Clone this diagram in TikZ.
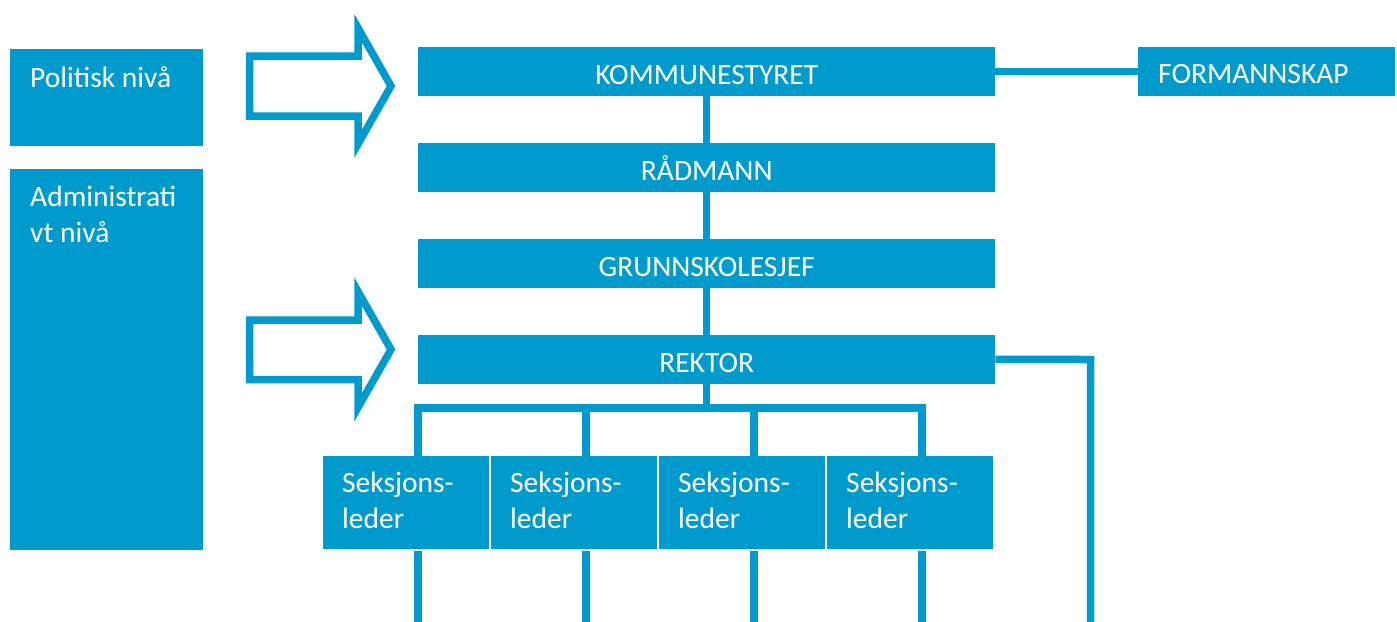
\documentclass[tikz,border=0pt]{standalone}
\usepackage{fontspec}
\setmainfont{Carlito}
\usetikzlibrary{calc,backgrounds}
\definecolor{blu}{RGB}{0,155,204}
\begin{document}
\begin{tikzpicture}[x=1pt,y=-1pt,
  box/.style={fill=blu, draw=none, inner sep=0pt, anchor=north west},
  cbox/.style={box, text=white, font=\fontsize{29.5}{36}\selectfont, text height=27pt, text depth=0pt, minimum width=577pt, minimum height=48.5pt},
  lbl/.style={text=white, font=\fontsize{29.5}{36}\selectfont, inner sep=0pt, anchor=base west, align=left},
  conn/.style={draw=blu, line width=7.5pt, line join=miter},
  bigarrow/.style={draw=blu, line width=7.5pt, line join=miter, fill=white},
]
\useasboundingbox (0,0) rectangle (1397,621);

% left level boxes
\node[box, minimum width=193pt, minimum height=97pt] (pol) at (10,49) {};
\node[box, minimum width=193pt, minimum height=381pt] (adm) at (10,169) {};
\node[lbl] (polt) at ($(pol.north west)+(20,38)$) {Politisk nivå};
\node[lbl] (admt) at ($(adm.north west)+(20,73)$) {Administrati\\vt nivå};

% arrows
\path[bigarrow] (249.5,56) -- (358,56) -- (358,28) -- (391,86) -- (358,144) -- (358,116) -- (249.5,116) -- cycle;
\path[bigarrow] (249.5,320) -- (358,320) -- (358,291.5) -- (391,349.5) -- (358,407.5) -- (358,379.5) -- (249.5,379.5) -- cycle;

% main column
\node[cbox] (kom) at (418,47) {KOMMUNESTYRET};
\node[cbox] (rad) at (418,143) {RÅDMANN};
\node[cbox] (grs) at (418,239) {GRUNNSKOLESJEF};
\node[cbox] (rek) at (418,335) {REKTOR};
\node[box, minimum width=257pt, minimum height=48.5pt] (form) at (1138,47) {};
\node[lbl] (formt) at ($(form.north west)+(20,36)$) {FORMANNSKAP};

% section leaders
\foreach \i/\x in {1/323,2/491,3/659,4/827}{
  \node[box, minimum width=166pt, minimum height=93pt] (s\i) at (\x,456) {};
  \node[lbl] (s\i t) at ($(s\i.north west)+(19,72)$) {Seksjons-\\leder};
}

\coordinate (busL) at ($(s1.north)+(12,-48)$);
\coordinate (busR) at ($(s4.north)+(12,-48)$);
\coordinate (rc) at (1090.5,359.5);
\coordinate (rend) at (1090.5,625);

\begin{scope}[on background layer]
  \draw[conn] (kom.south) -- (kom.south |- busL);
  \draw[conn] ([xshift=12pt]s1.north) -- (busL) -- (busR) -- ([xshift=12pt]s4.north);
  \draw[conn] ([xshift=12pt]s2.north) -- ([xshift=12pt]s2.north |- busL);
  \draw[conn] ([xshift=12pt]s3.north) -- ([xshift=12pt]s3.north |- busL);
  \foreach \i in {1,2,3,4}{
    \draw[conn] ([xshift=12pt,yshift=-2pt]s\i.south) -- ++(0,80);
  }
  \draw[conn] (kom.east) -- (form.west);
  \draw[conn] (rek.east) -- (rc) -- (rend);
\end{scope}
\end{tikzpicture}
\end{document}
